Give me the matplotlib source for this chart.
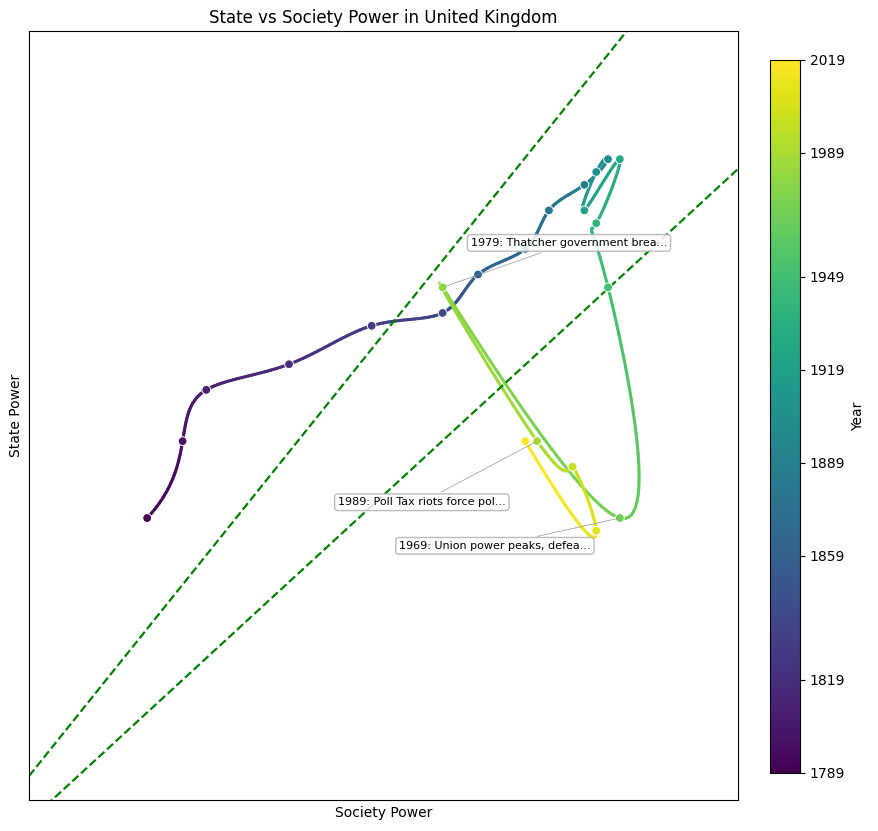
import numpy as np
import matplotlib
matplotlib.use('Agg')
import matplotlib.pyplot as plt
from matplotlib.collections import LineCollection

years = [1789, 1799, 1809, 1819, 1829, 1839, 1859, 1869, 1879, 1889, 1899,
         1909, 1919, 1929, 1939, 1949, 1969, 1979, 1989, 1999, 2009, 2019]
society = [10, 13, 15, 22, 29, 35, 38, 42, 44, 47, 49,
           48, 47, 50, 48, 49, 50, 35, 43, 46, 48, 42]
state = [22, 28, 32, 34, 37, 38, 41, 43, 46, 48, 50,
         49, 46, 50, 45, 40, 22, 40, 28, 26, 21, 28]

eventos = {
    1969: ('1969: Union power peaks, defea...', (-90, -20)),
    1979: ('1979: Thatcher government brea...', (91, 32)),
    1989: ('1989: Poll Tax riots force pol...', (-83, -44)),
}

# limites do corredor (inclinacao, intercepto)
corredor = [(1.149, 1.87), (0.848, -1.65)]


def spline(t, y, tt):
    # spline cubica "not-a-knot"
    n = len(t)
    h = np.diff(t)
    A = np.zeros((n, n))
    r = np.zeros(n)
    A[0, :3] = [h[1], -(h[0] + h[1]), h[0]]
    A[-1, -3:] = [h[-1], -(h[-2] + h[-1]), h[-2]]
    for i in range(1, n - 1):
        A[i, i - 1:i + 2] = [h[i - 1], 2 * (h[i - 1] + h[i]), h[i]]
        r[i] = 6 * ((y[i + 1] - y[i]) / h[i] - (y[i] - y[i - 1]) / h[i - 1])
    M = np.linalg.solve(A, r)
    k = np.clip(np.searchsorted(t, tt) - 1, 0, n - 2)
    a = t[k + 1] - tt
    b = tt - t[k]
    hk = h[k]
    return (M[k] * a**3 / (6 * hk) + M[k + 1] * b**3 / (6 * hk)
            + (y[k] / hk - M[k] * hk / 6) * a + (y[k + 1] / hk - M[k + 1] * hk / 6) * b)


x = np.array(society, float)
y = np.array(state, float)
t = np.arange(len(years), dtype=float)
tt = np.linspace(0, len(years) - 1, 600)
xs = spline(t, x, tt)
ys = spline(t, y, tt)
anos = np.interp(tt, t, years)

fig = plt.figure(figsize=(8.79, 8.31), dpi=100)
ax = fig.add_axes([0.033, 0.0373, 0.8066, 0.9254])
cax = fig.add_axes([0.876, 0.0698, 0.034, 0.858])

norm = plt.Normalize(years[0], years[-1])
pts = np.column_stack([xs, ys]).reshape(-1, 1, 2)
segs = np.concatenate([pts[:-1], pts[1:]], axis=1)
lc = LineCollection(segs, cmap='viridis', norm=norm, linewidth=2.2, capstyle='round')
lc.set_array(anos[:-1])
ax.add_collection(lc)

sc = ax.scatter(x, y, c=years, cmap='viridis', norm=norm, s=40,
                edgecolors='white', linewidths=0.7, zorder=3)

xl = np.linspace(0, 60, 10)
for m, b in corredor:
    ax.plot(xl, m * xl + b, '--', color='green', linewidth=1.6)

for ano, (txt, off) in eventos.items():
    i = years.index(ano)
    ax.annotate(txt, (x[i], y[i]), xytext=off, textcoords='offset points',
                fontsize=8, ha='center', va='center',
                bbox=dict(boxstyle='round,pad=0.3', fc='white', ec='#b0b0b0', alpha=0.85),
                arrowprops=dict(arrowstyle='-', color='gray', lw=0.6, alpha=0.7),
                zorder=4)

ax.set_xlim(0, 60)
ax.set_ylim(0, 60)
ax.set_xticks([])
ax.set_yticks([])
ax.set_xlabel('Society Power')
ax.set_ylabel('State Power')
ax.set_title('State vs Society Power in United Kingdom')

cb = fig.colorbar(sc, cax=cax, ticks=years[::3])
cb.set_ticklabels([str(a) for a in years[::3]])
cb.set_label('Year')

fig.savefig('out.png', dpi=100)
